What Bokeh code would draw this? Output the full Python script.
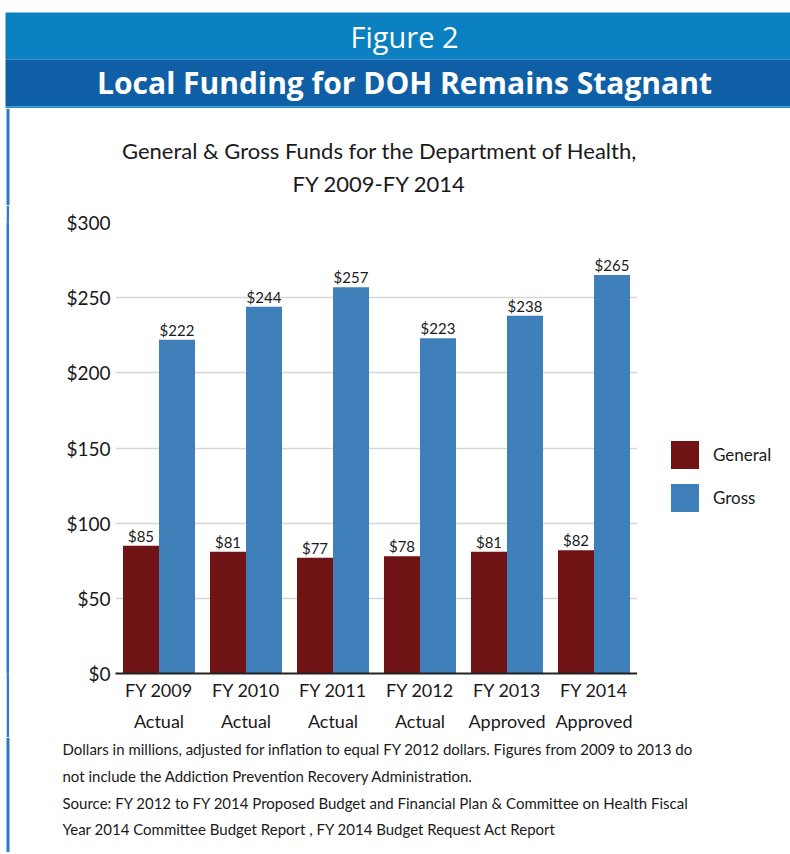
from bokeh.plotting import figure
from bokeh.layouts import column, row, Spacer
from bokeh.models import (Range1d, FactorRange, FixedTicker, NumeralTickFormatter,
                          Legend, LegendItem, ColumnDataSource, CategoricalAxis,
                          CustomJSTickFormatter)
from bokeh.transform import dodge
from bokeh.core.properties import value
from bokeh.embed import file_html
from bokeh.resources import INLINE

# ---- data ----
categories = ["FY 2009", "FY 2010", "FY 2011", "FY 2012", "FY 2013", "FY 2014"]
category_status = ["Actual", "Actual", "Actual", "Actual", "Approved", "Approved"]
general = [85, 81, 77, 78, 81, 82]
gross = [222, 244, 257, 223, 238, 265]
y_ticks = [0, 50, 100, 150, 200, 250, 300]
series_names = ["General", "Gross"]

header_line1 = "Figure 2"
header_line2 = "Local Funding for DOH Remains Stagnant"
title_lines = ["General & Gross Funds for the Department of Health,", "FY 2009-FY 2014"]
note_lines = [
    "Dollars in millions, adjusted for inflation to equal FY 2012 dollars. Figures from 2009 to 2013 do",
    "not include the Addiction Prevention Recovery Administration.",
    "Source: FY 2012 to FY 2014 Proposed Budget and Financial Plan &  Committee on Health Fiscal",
    "Year 2014 Committee Budget Report , FY 2014 Budget Request Act Report",
]

FONT = "Lato"
HFONT = "Open Sans"
TXT = "#1a1a1a"
MAROON = "#6f1315"
BLUE = "#3f80ba"
STRIP = "#2a7cc4"

W = 790
HH = 108   # header height
TH = 97    # chart-title height
PH = 532   # chart height
NH = 115   # notes height
BT, BB = 17, 64   # chart top / bottom borders


def blank(fig):
    fig.axis.visible = False
    fig.grid.visible = False
    fig.outline_line_color = None
    fig.background_fill_color = "white"
    fig.border_fill_color = "white"
    return fig


def panel(width, height):
    return blank(figure(width=width, height=height, x_range=Range1d(0, width),
                        y_range=Range1d(0, height), output_backend="svg",
                        toolbar_location=None, min_border=0))


# ---- header ----
h = panel(W, HH)
h.quad(left=[5], right=[W], bottom=[49], top=[96], fill_color="#0a80c1", line_color=None)
h.quad(left=[5], right=[W], bottom=[2], top=[49], fill_color="#0e5fa5", line_color=None)
h.quad(left=[5], right=[W], bottom=[0], top=[2], fill_color="#1b8bd2", line_color=None)
h.text(x=[404], y=[72], text=[header_line1], text_color="white", text_font=value(HFONT),
       text_font_size="29px", text_align="center", text_baseline="middle")
h.text(x=[404], y=[26.5], text=[header_line2], text_color="white", text_font=value(HFONT),
       text_font_size="30px", text_font_style="bold", text_align="center",
       text_baseline="middle")

# ---- chart title ----
t = panel(W, TH)
t.quad(left=[6], right=[9], bottom=[0], top=[TH], fill_color=STRIP, line_color=None)
t.text(x=[379, 379], y=[TH - 42, TH - 75], text=title_lines, text_color=TXT,
       text_font=value(FONT), text_font_size="22px", text_align="center",
       text_baseline="middle")

# ---- left strip beside chart ----
s = blank(figure(width=3, height=PH, output_backend="svg", toolbar_location=None,
                 min_border=0, x_range=Range1d(0, 1), y_range=Range1d(0, 1)))
s.background_fill_color = STRIP
s.border_fill_color = STRIP

# ---- chart ----
src = ColumnDataSource(dict(
    cat=categories, general=general, gross=gross,
    general_lbl=[f"${v}" for v in general], gross_lbl=[f"${v}" for v in gross],
))

PW = 106 + 522
p = figure(width=PW, height=PH, x_range=FactorRange(*categories, range_padding=0),
           y_range=Range1d(0, 300), output_backend="svg", toolbar_location=None,
           min_border_left=106, min_border_right=0, min_border_top=BT, min_border_bottom=BB)
p.x_range.range_padding = 0
p.outline_line_color = None
p.background_fill_color = "white"
p.border_fill_color = "white"
p.xgrid.visible = False
p.ygrid.grid_line_color = "#d6d6d6"
p.ygrid.grid_line_width = 1.5
p.yaxis.ticker = FixedTicker(ticks=y_ticks)
p.yaxis.formatter = NumeralTickFormatter(format="$0")
p.yaxis.axis_line_color = None
p.yaxis.major_tick_line_color = None
p.yaxis.minor_tick_line_color = None
p.yaxis.major_tick_out = 0
p.yaxis.major_tick_in = 0
p.yaxis.major_label_standoff = 5
p.yaxis.major_label_text_font = FONT
p.yaxis.major_label_text_font_size = "19px"
p.yaxis.major_label_text_color = TXT

xa = p.xaxis[0]
xa.axis_line_color = "#222222"
xa.axis_line_width = 2
xa.major_tick_line_color = None
xa.major_tick_out = 0
xa.major_tick_in = 0
xa.minor_tick_line_color = None
xa.major_label_standoff = 5
xa.major_label_text_font = FONT
xa.major_label_text_font_size = "18px"
xa.major_label_text_color = TXT

xa2 = CategoricalAxis(formatter=CustomJSTickFormatter(
    args=dict(cats=categories, labs=category_status),
    code="const i = cats.indexOf(tick); return i >= 0 ? labs[i] : tick;"))
xa2.axis_line_color = None
xa2.major_tick_line_color = None
xa2.major_tick_out = 0
xa2.major_tick_in = 0
xa2.minor_tick_line_color = None
xa2.major_label_standoff = 6
xa2.major_label_text_font = FONT
xa2.major_label_text_font_size = "18px"
xa2.major_label_text_color = TXT
p.add_layout(xa2, "below")

BW = 0.414
p.vbar(x=dodge("cat", -BW / 2, range=p.x_range), top="general", width=BW, source=src,
       fill_color=MAROON, line_color=None)
p.vbar(x=dodge("cat", BW / 2, range=p.x_range), top="gross", width=BW, source=src,
       fill_color=BLUE, line_color=None)
p.text(x=dodge("cat", -BW / 2, range=p.x_range), y="general", text="general_lbl", source=src,
       y_offset=-1, text_align="center", text_baseline="bottom", text_font=value(FONT),
       text_font_size="15px", text_color=TXT)
p.text(x=dodge("cat", BW / 2, range=p.x_range), y="gross", text="gross_lbl", source=src,
       y_offset=-1, text_align="center", text_baseline="bottom", text_font=value(FONT),
       text_font_size="15px", text_color=TXT)

# ---- legend panel (to the right of the chart) ----
# proxy renderers (placed outside this panel's visible range) that only supply legend swatches
LW = W - 6 - 3 - PW
lg = blank(figure(width=LW, height=PH, x_range=Range1d(0, 1), y_range=Range1d(0, 1),
                  output_backend="svg", toolbar_location=None, min_border_left=0,
                  min_border_right=0, min_border_top=BT, min_border_bottom=BB))
g1 = lg.vbar(x=[-5], bottom=[-5], top=[-4], width=1, fill_color=MAROON, line_color=None)
g2 = lg.vbar(x=[-5], bottom=[-5], top=[-4], width=1, fill_color=BLUE, line_color=None)
legend = Legend(items=[LegendItem(label=series_names[0], renderers=[g1]),
                       LegendItem(label=series_names[1], renderers=[g2])],
                location=(30, 158), padding=0, margin=0, spacing=8,
                glyph_width=35, glyph_height=35, label_standoff=11,
                label_text_font=FONT, label_text_font_size="17px", label_text_color=TXT,
                border_line_color=None, background_fill_alpha=0)
lg.add_layout(legend, "center")

# ---- notes ----
n = panel(W, NH)
n.quad(left=[6], right=[9], bottom=[0], top=[NH], fill_color=STRIP, line_color=None)
n.text(x=[62] * 4, y=[NH - 11, NH - 38, NH - 65, NH - 91], text=note_lines, text_color=TXT,
       text_font=value(FONT), text_font_size="15px", text_align="left", text_baseline="middle")

mid = row(Spacer(width=6, height=PH), s, p, lg, spacing=0, width=W, height=PH)
layout = column(h, t, mid, n, spacing=0, width=W, height=HH + TH + PH + NH)
open("out.html", "w").write(file_html(layout, INLINE))
